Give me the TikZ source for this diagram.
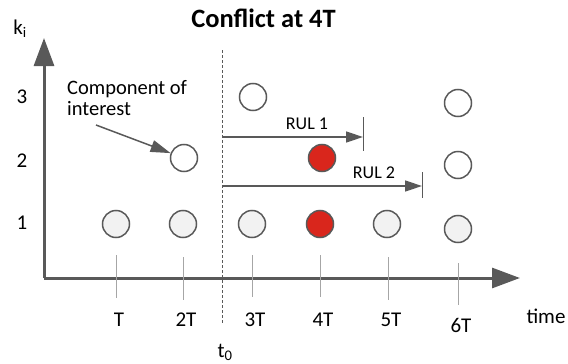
\documentclass[tikz,border=0pt]{standalone}
\usepackage{fontspec}
\setmainfont{Carlito}
\usetikzlibrary{arrows.meta}
\definecolor{axisgray}{HTML}{595959}
\definecolor{tickgray}{HTML}{A6A6A6}
\definecolor{lightfill}{HTML}{F2F2F2}
\definecolor{conflictred}{HTML}{D9261C}
\tikzset{
  axis/.style={line width=3pt, draw=axisgray, -{Triangle[length=28pt,width=20pt]}},
  tickline/.style={line width=1pt, draw=tickgray},
  comp/.style={circle, draw=axisgray, line width=1.5pt, minimum size=27pt, inner sep=0pt, fill=white},
  compgray/.style={comp, fill=lightfill},
  comphot/.style={comp, fill=conflictred},
  rularrow/.style={line width=1.5pt, draw=axisgray, -{Triangle[length=17pt,width=11pt]}},
  rulbar/.style={line width=1pt, draw=axisgray},
  lbl/.style={font=\fontsize{21}{24}\selectfont, text=black, inner sep=0pt},
  small/.style={font=\fontsize{18}{21}\selectfont, text=black, inner sep=0pt},
}
\begin{document}
\begin{tikzpicture}[x=1pt, y=-1pt]
\useasboundingbox (0,0) rectangle (568,364);

% title
\node[font=\fontsize{26.5}{30}\selectfont\bfseries, inner sep=0pt] (title) at (263.5,18) {Conflict at 4T};

% axes
\coordinate (origin) at (44,278);
\coordinate (ytop) at (44,38);
\coordinate (xend) at (520,278);
\draw[axis] (origin) -- (ytop);
\draw[axis] (origin) -- (xend);
\node[lbl] (klabel) at (20,29) {k\textsubscript{i}};
\node[lbl] (timelabel) at (546,316) {time};

% row labels
\node[lbl] (r3) at (22,97) {3};
\node[lbl] (r2) at (22,161) {2};
\node[lbl] (r1) at (22,223) {1};

% time ticks
\foreach \n/\x/\ya/\yb/\lab/\ly in {a/116/255/298/T/320, b/183/257/300/2T/320, c/252/255/297/3T/320, d/320/255/297/4T/320, e/388/257/300/5T/320, f/458/263/305/6T/325} {
  \coordinate (tt\n) at (\x,\ya);
  \coordinate (tb\n) at (\x,\yb);
  \draw[tickline] (tt\n) -- (tb\n);
  \node[lbl] (tl\n) at (\x+3,\ly) {\lab};
}

% current time t0
\coordinate (t0top) at (222,50);
\coordinate (t0bot) at (222,323);
\draw[densely dashed, line width=0.8pt, draw=axisgray] (t0top) -- (t0bot);
\node[lbl] (t0) at (225,352) {t\textsubscript{0}};

% components
\node[compgray] (c1a) at (116,224) {};
\node[compgray] (c1b) at (183,224) {};
\node[compgray] (c1c) at (252,224) {};
\node[comphot]  (c1d) at (320,224) {};
\node[compgray] (c1e) at (387,224) {};
\node[compgray] (c1f) at (458,229) {};
\node[comp]     (c2b) at (184,158) {};
\node[comphot]  (c2d) at (322,158) {};
\node[comp]     (c2f) at (458,165) {};
\node[comp]     (c3c) at (253,97) {};
\node[comp]     (c3f) at (458,103) {};

% component of interest
\node[small, align=left, anchor=north west, font=\fontsize{20.5}{21}\selectfont] (coi) at (67,80) {Component of\\interest};
\coordinate (coistart) at (96,125);
\draw[line width=1.5pt, draw=axisgray, -{Triangle[length=20pt,width=12pt]}] (coistart) -- (c2b.160);

% remaining useful life arrows
\coordinate (rul1s) at (222,137);
\coordinate (rul1e) at (363,137);
\coordinate (rul1t) at (363,117);
\coordinate (rul1b) at (363,151);
\draw[rularrow] (rul1s) -- (rul1e);
\draw[rulbar] (rul1t) -- (rul1b);
\node[small] (rul1) at (307,124) {RUL 1};

\coordinate (rul2s) at (222,186);
\coordinate (rul2e) at (422,186);
\coordinate (rul2t) at (422,172);
\coordinate (rul2b) at (422,198);
\draw[rularrow] (rul2s) -- (rul2e);
\draw[rulbar] (rul2t) -- (rul2b);
\node[small] (rul2) at (374,173) {RUL 2};
\end{tikzpicture}
\end{document}
